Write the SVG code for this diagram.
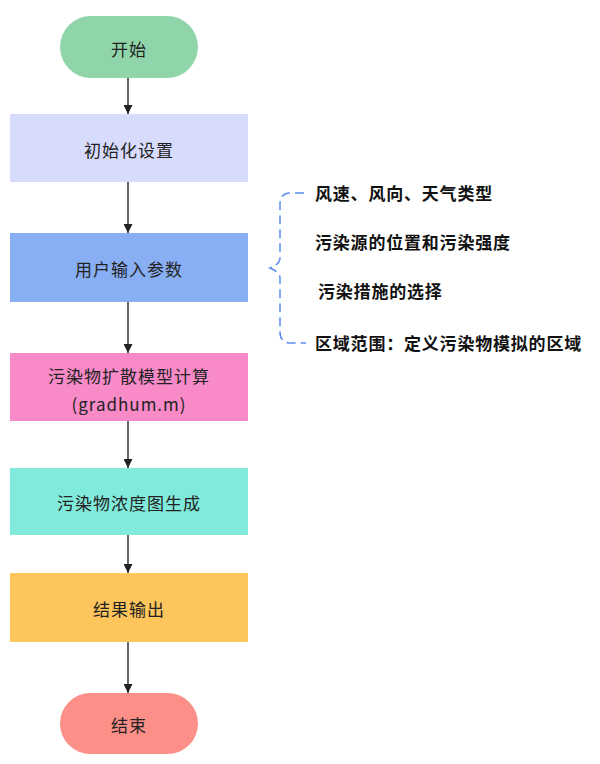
<svg xmlns="http://www.w3.org/2000/svg" width="600" height="764" viewBox="0 0 600 764">
<defs>
<marker id="arr" viewBox="0 0 10 10" refX="10" refY="5" markerWidth="9" markerHeight="9" markerUnits="userSpaceOnUse" orient="auto">
<path d="M0,0 L10,5 L0,10 Z" fill="#222"/>
</marker>
<style>
.t{font-family:"Noto Sans CJK SC","Noto Sans",sans-serif;font-size:17px;fill:#222;text-anchor:middle;dominant-baseline:central;letter-spacing:1px}
.b{font-family:"Noto Sans CJK SC","Noto Sans",sans-serif;font-size:17px;font-weight:bold;fill:#111;dominant-baseline:central;letter-spacing:0.8px}
.c{stroke:#333;stroke-width:1.5;fill:none;marker-end:url(#arr)}
.br{stroke:#5B8DEF;stroke-width:1.5;fill:none;stroke-dasharray:9 5}
</style>
</defs>
<rect width="600" height="764" fill="#fff"/>
<g id="connectors">
<line class="c" x1="128" y1="78" x2="128" y2="114"/>
<line class="c" x1="128" y1="182" x2="128" y2="233"/>
<line class="c" x1="128" y1="302" x2="128" y2="353"/>
<line class="c" x1="128" y1="421" x2="128" y2="468"/>
<line class="c" x1="128" y1="535" x2="128" y2="573"/>
<line class="c" x1="128" y1="642" x2="128" y2="693"/>
</g>
<g id="start"><rect x="60" y="16" width="138" height="62" rx="31" fill="#90D5A9"/><text class="t" x="129" y="48">开始</text></g>
<g id="init"><rect x="10" y="114" width="238" height="68" fill="#D7DBFC"/><text class="t" x="129" y="149">初始化设置</text></g>
<g id="input"><rect x="10" y="233" width="238" height="69" fill="#88AEF4"/><text class="t" x="129" y="268">用户输入参数</text></g>
<g id="model"><rect x="10" y="353" width="238" height="68" fill="#F78AC7"/><text class="t" x="129" y="375">污染物扩散模型计算</text><text class="t" x="129" y="403">(gradhum.m)</text></g>
<g id="conc"><rect x="10" y="468" width="238" height="67" fill="#80EADB"/><text class="t" x="129" y="502">污染物浓度图生成</text></g>
<g id="output"><rect x="10" y="573" width="238" height="69" fill="#FDC55C"/><text class="t" x="129" y="608">结果输出</text></g>
<g id="end"><rect x="60" y="693" width="138" height="61" rx="30.5" fill="#FC8F88"/><text class="t" x="129" y="724">结束</text></g>
<g id="params">
<path class="br" d="M304,193 L291,193 Q280,193 280,204 L280,258 Q280,264 270,268 Q280,272 280,278 L280,332 Q280,343 291,343 L306,343"/>
<text class="b" x="315" y="192">风速、风向、天气类型</text>
<text class="b" x="315" y="241">污染源的位置和污染强度</text>
<text class="b" x="318" y="290">污染措施的选择</text>
<text class="b" x="315" y="342">区域范围：定义污染物模拟的区域</text>
</g>
</svg>
